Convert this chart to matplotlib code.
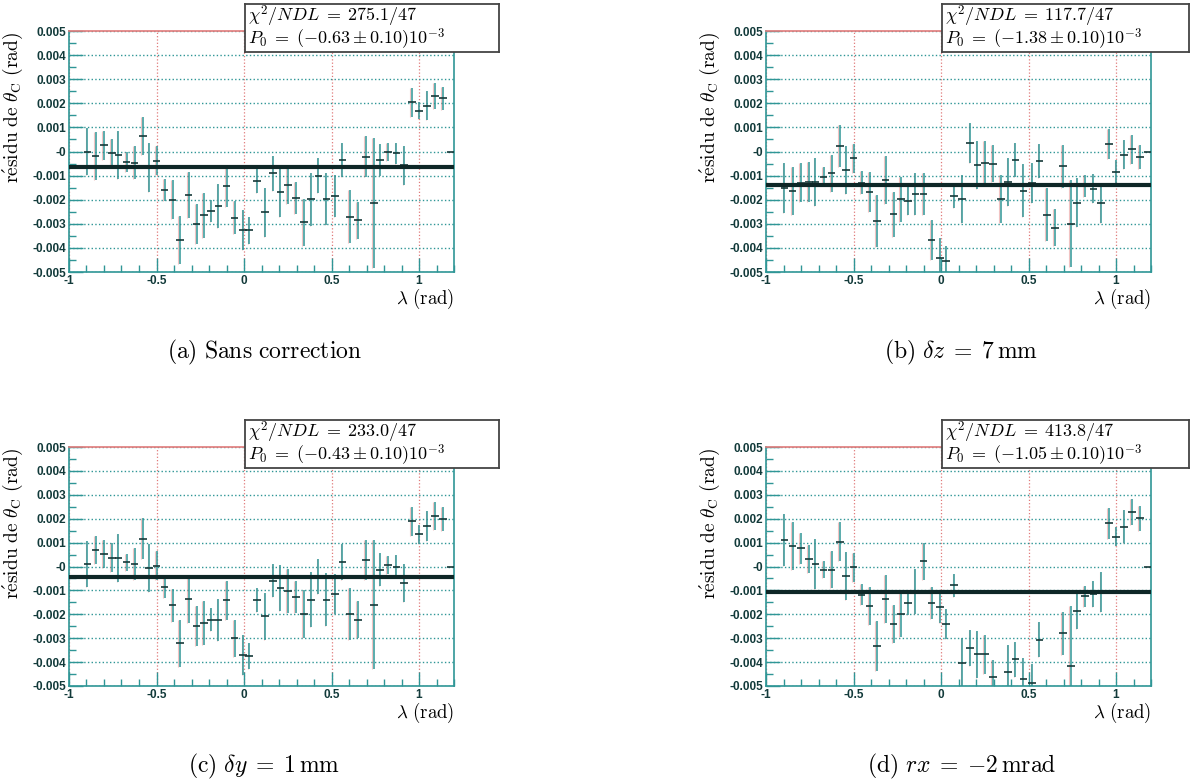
import numpy as np
import matplotlib
matplotlib.use('Agg')
import matplotlib.pyplot as plt
from matplotlib.ticker import MultipleLocator
from matplotlib.transforms import offset_copy

plt.rcParams['mathtext.fontset'] = 'cm'

# lambda bins (rad), common to the four panels
lam = [-0.895, -0.848, -0.802, -0.756, -0.718, -0.671, -0.625, -0.579, -0.541, -0.500,
       -0.454, -0.408, -0.366, -0.317, -0.271, -0.229, -0.187, -0.146, -0.100, -0.054,
       -0.005, 0.030, 0.075, 0.121, 0.167, 0.208, 0.250, 0.296, 0.341, 0.383,
       0.425, 0.471, 0.520, 0.562, 0.604, 0.650, 0.696, 0.741, 0.779, 0.821,
       0.871, 0.916, 0.958, 1.000, 1.046, 1.091, 1.137, 1.180]

# residuals and errors, in units of 1e-3 rad
res_a = [0.00, -0.18, 0.26, -0.07, -0.14, -0.43, -0.46, 0.65, -0.66, -0.39,
         -1.60, -2.00, -3.67, -1.80, -3.00, -2.65, -2.46, -2.26, -1.45, -2.74,
         -3.27, -3.27, -1.23, -2.53, -0.91, -1.66, -1.39, -1.94, -2.94, -1.98,
         -1.01, -1.98, -1.84, -0.36, -2.71, -2.85, -0.21, -2.12, -0.35, -0.01,
         -0.08, -0.57, 2.04, 1.69, 1.90, 2.31, 2.20, 0.00]
err_a = [0.97, 1.00, 0.60, 0.60, 1.00, 0.40, 0.70, 0.80, 1.00, 0.60,
         0.45, 0.80, 1.00, 0.95, 0.83, 0.93, 0.45, 0.90, 0.85, 0.70,
         0.83, 0.57, 0.50, 1.00, 0.72, 1.07, 0.80, 0.66, 0.97, 1.10,
         0.73, 1.07, 0.87, 0.70, 1.10, 0.76, 0.85, 2.70, 0.66, 0.37,
         0.45, 0.80, 0.60, 0.35, 0.60, 0.55, 0.48, 0.00]

res_b = [-1.50, -1.63, -1.29, -1.26, -1.26, -1.04, -0.91, 0.24, -0.78, -0.29,
         -1.29, -1.66, -2.88, -1.18, -2.60, -1.98, -2.05, -1.77, -1.77, -3.67,
         -4.40, -4.54, -1.84, -1.98, 0.37, -0.55, -0.48, -0.50, -1.98, -1.25,
         -0.35, -1.63, -1.29, -0.39, -2.63, -3.16, -0.62, -3.00, -2.12, -1.43,
         -1.54, -2.12, 0.30, -0.85, -0.14, 0.10, -0.21, 0.00]
err_b = [1.04, 1.00, 0.80, 0.83, 1.00, 0.40, 0.76, 0.88, 1.00, 0.60,
         0.48, 0.83, 1.07, 1.00, 0.93, 0.93, 0.57, 0.88, 0.88, 0.83,
         0.80, 0.60, 0.50, 1.00, 0.83, 1.00, 0.93, 0.76, 1.00, 1.00,
         0.71, 1.10, 0.83, 0.70, 1.10, 0.76, 0.88, 1.80, 1.00, 0.47,
         0.59, 0.83, 0.62, 0.50, 0.60, 0.60, 0.50, 0.00]

res_c = [0.10, 0.69, 0.51, 0.37, 0.37, 0.17, 0.12, 1.17, -0.07, 0.03,
         -0.84, -1.63, -3.22, -1.35, -2.49, -2.36, -2.22, -2.22, -1.42, -3.01,
         -3.70, -3.73, -1.42, -2.09, -0.59, -0.90, -1.01, -1.28, -2.00, -1.39,
         -0.43, -1.39, -1.15, 0.19, -1.98, -2.22, 0.28, -1.60, -0.14, 0.07,
         0.00, -0.69, 1.89, 1.34, 1.69, 2.10, 2.00, 0.00]
err_c = [0.95, 0.60, 0.59, 0.60, 1.00, 0.36, 0.67, 0.84, 1.00, 0.60,
         0.46, 0.70, 1.00, 1.00, 0.82, 0.93, 0.48, 0.88, 0.80, 0.76,
         0.83, 0.55, 0.50, 1.00, 0.70, 0.95, 0.92, 0.68, 1.00, 1.14,
         0.73, 1.10, 0.83, 0.76, 1.10, 0.76, 0.83, 2.70, 0.69, 0.38,
         0.48, 0.80, 0.62, 0.38, 0.62, 0.59, 0.50, 0.00]

nan = np.nan
res_d = [1.11, 0.86, 0.76, 0.32, 0.11, -0.14, -0.14, 1.04, -0.39, -0.03,
         -1.18, -1.64, -3.33, -1.36, -2.40, -1.99, -1.53, -1.04, 0.21, -1.53,
         -1.71, -2.40, -0.79, -4.03, -3.40, -3.68, -3.68, -4.62, nan, -4.40,
         -3.89, -4.72, -4.86, -3.06, nan, nan, -2.80, -4.17, -1.85, -1.25,
         -1.15, -1.07, 1.80, 1.25, 1.67, 2.29, 2.01, 0.00]
err_d = [1.10, 1.00, 0.66, 0.60, 1.05, 0.35, 0.78, 0.81, 1.00, 0.60,
         0.43, 0.80, 1.04, 1.00, 0.80, 0.95, 0.49, 0.94, 0.78, 0.68,
         0.66, 0.63, 0.49, 1.05, 0.76, 1.00, 0.83, 0.70, 1.00, 1.10,
         0.75, 0.90, 0.80, 0.73, 1.00, 0.80, 0.90, 2.50, 0.76, 0.44,
         0.56, 0.85, 0.66, 0.40, 0.70, 0.54, 0.53, 0.00]

fit_p0 = [-0.63, -1.38, -0.43, -1.05]
chi2_txt = ['275.1/47', '117.7/47', '233.0/47', '413.8/47']
captions = [r'$\mathrm{(a)\ Sans\ correction}$',
            r'$\mathrm{(b)}\ \delta z\;=\;7\,\mathrm{mm}$',
            r'$\mathrm{(c)}\ \delta y\;=\;1\,\mathrm{mm}$',
            r'$\mathrm{(d)}\ rx\;=\;{-2}\,\mathrm{mrad}$']

ytick_vals = [-0.005, -0.004, -0.003, -0.002, -0.001, 0.0, 0.001, 0.002, 0.003, 0.004, 0.005]
ytick_labels = ['-0.005', '-0.004', '-0.003', '-0.002', '-0.001', '-0',
                '0.001', '0.002', '0.003', '0.004', '0.005']
xtick_vals = [-1, -0.5, 0, 0.5, 1]
xtick_labels = ['-1', '-0.5', '0', '0.5', '1']

W, H = 1191, 784
fig = plt.figure(figsize=(W / 100, H / 100), dpi=100)

teal = '#2f9696'
red = '#e07a7a'
dark = '#163838'

def rect(x0, y0, x1, y1):
    # pixel box (top-left origin) -> figure fraction
    return [x0 / W, 1 - y1 / H, (x1 - x0) / W, (y1 - y0) / H]

# axes boxes in pixels: left, top, right, bottom
boxes = [(69, 31, 454, 272), (766, 31, 1151, 272),
         (69, 447, 454, 686), (766, 447, 1151, 686)]
infoboxes = [(245, 4, 499, 52), (942, 4, 1189, 52),
             (245, 420, 499, 468), (942, 420, 1189, 468)]
series = [(res_a, err_a), (res_b, err_b), (res_c, err_c), (res_d, err_d)]

x = np.array(lam)
for i in range(4):
    l, t, r, b = boxes[i]
    ax = fig.add_axes(rect(l, t, r, b))
    y = np.array(series[i][0]) * 1e-3
    e = np.array(series[i][1]) * 1e-3

    ax.set_xlim(-1, 1.2)
    ax.set_ylim(-0.005, 0.005)

    ax.grid(axis='x', color=red, ls=':', lw=0.9)
    ax.grid(axis='y', color=teal, ls=':', lw=1.0)

    # faint red ghost of the error bars, then the bars themselves
    ghost = offset_copy(ax.transData, fig=fig, x=-1.5, y=0, units='dots')
    ax.vlines(x, y - e, y + e, colors=red, lw=0.8, alpha=0.45, transform=ghost)
    ax.vlines(x, y - e, y + e, colors=teal, lw=1.1)
    ax.hlines(y, x - 0.022, x + 0.022, colors=dark, lw=1.2, zorder=3)

    ax.axhline(fit_p0[i] * 1e-3, color='#0e2727', lw=3, zorder=5)

    ax.set_xticks(xtick_vals)
    ax.set_xticklabels(xtick_labels)
    ax.set_yticks(ytick_vals)
    ax.set_yticklabels(ytick_labels)
    ax.xaxis.set_minor_locator(MultipleLocator(0.1))
    ax.yaxis.set_minor_locator(MultipleLocator(0.0005))
    ax.tick_params(which='both', direction='in', color=teal, width=1,
                   labelsize=8.5, labelcolor='#123a3a', pad=2)
    ax.tick_params(which='major', length=10)
    ax.tick_params(which='minor', length=5)
    for lab in ax.get_xticklabels() + ax.get_yticklabels():
        lab.set_fontweight('bold')
        lab.set_family('Liberation Sans')
    for side in ['left', 'right', 'bottom']:
        ax.spines[side].set_color(teal)
        ax.spines[side].set_linewidth(1.2)
    ax.spines['top'].set_color(red)
    ax.spines['top'].set_linewidth(1.2)

    # axis titles
    fig.text((l - 56) / W, 1 - (t + 1) / H,
             r'$\mathrm{r\acute{e}sidu\ de\ }\theta_{\mathrm{C}}\ \mathrm{(rad)}$',
             rotation=90, ha='center', va='top', fontsize=14)
    fig.text(r / W, 1 - (b + 15) / H, r'$\lambda\ \mathrm{(rad)}$',
             ha='right', va='top', fontsize=13.5)

    # fit result box
    bl, bt, br, bb = infoboxes[i]
    bax = fig.add_axes(rect(bl, bt, br, bb))
    bax.set_xticks([])
    bax.set_yticks([])
    for s in bax.spines.values():
        s.set_color('#444444')
        s.set_linewidth(1.3)
    bax.text(0.012, 0.74, r'$\chi^2/NDL\;=\;%s$' % chi2_txt[i],
             transform=bax.transAxes, ha='left', va='center', fontsize=13)
    bax.text(0.012, 0.26, r'$P_0\;=\;(%s \pm 0.10)10^{-3}$' % fit_p0[i],
             transform=bax.transAxes, ha='left', va='center', fontsize=13)

    # caption
    fig.text((l + r) / 2 / W + 3 / W, 1 - (b + 80) / H, captions[i],
             ha='center', va='center', fontsize=17)

fig.savefig('out.png', dpi=100)
